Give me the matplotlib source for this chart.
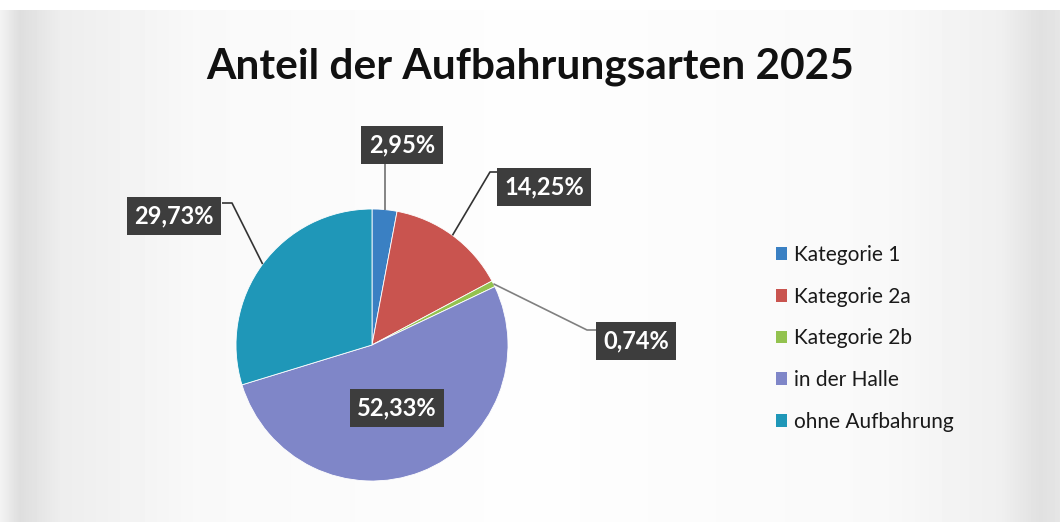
import numpy as np
import matplotlib
matplotlib.use("Agg")
import matplotlib.pyplot as plt
from matplotlib.patches import Patch

# ---- data ----
categories = ["Kategorie 1", "Kategorie 2a", "Kategorie 2b", "in der Halle", "ohne Aufbahrung"]
shares = [2.95, 14.25, 0.74, 52.33, 29.73]
label_texts = ["2,95%", "14,25%", "0,74%", "52,33%", "29,73%"]
colors = ["#3a80c3", "#c9544f", "#93c24f", "#7f86c8", "#1f97b8"]
title = "Anteil der Aufbahrungsarten 2025"

W, H = 1060, 522
fig = plt.figure(figsize=(W / 100, H / 100), dpi=100)
fig.patch.set_facecolor("white")

# scanned-page style background (light grey edges)
bg = fig.add_axes([0, 0, 1, 1], zorder=0)
xs = np.arange(W)
prof = np.interp(xs, [0, 20, 60, 200, 530, 880, 1000, 1040, 1060],
                 [0.95, 0.87, 0.93, 0.975, 0.995, 0.975, 0.94, 0.88, 0.90])
img = np.tile(prof, (H, 1))
img[:10, :] = 1.0
bg.imshow(img, cmap="gray", vmin=0, vmax=1, aspect="auto", extent=[0, W, H, 0])
bg.set_axis_off()

ax = fig.add_axes([0, 0, 1, 1], zorder=1)
ax.set_xlim(0, W)
ax.set_ylim(0, H)
ax.set_aspect("equal")
ax.set_axis_off()
ax.patch.set_alpha(0)

cx, cy, R = 372, H - 345, 136
wedges, _ = ax.pie(shares, colors=colors, startangle=90, counterclock=False,
                   center=(cx, cy), radius=R, frame=True,
                   wedgeprops=dict(edgecolor="white", linewidth=0.6))
ax.set_xlim(0, W)
ax.set_ylim(0, H)
ax.set_axis_off()

fig.text(0.5, 1 - 67 / H, title, ha="center", va="center",
         fontsize=30.5, fontweight="bold", family="Lato", color="#111111")

# label layout (box centers in pixel coords from top) and leader elbows
box_pos = {0: (402, 145), 1: (544, 187), 2: (636, 341), 3: (397, 408), 4: (174, 216)}
elbows = {
    0: [],
    1: [(490, 172), (500, 172)],
    2: [(587, 330), (598, 330)],
    4: [(232, 203), (222, 203)],
}
line_cols = {0: "#707070", 1: "#333333", 2: "#808080", 4: "#333333"}

for i, w in enumerate(wedges):
    mid = np.deg2rad((w.theta1 + w.theta2) / 2)
    bx, by = box_pos[i]
    ax.text(bx, H - by, label_texts[i], ha="center", va="center", fontsize=17,
            family="Lato", fontweight="bold", color="white", zorder=5,
            bbox=dict(boxstyle="square,pad=0.32", fc="#3d3d3d", ec="none"))
    if i in elbows:
        ex, ey = cx + R * np.cos(mid), cy + R * np.sin(mid)
        if i == 0:
            pts = [(ex, ey), (ex, H - 160)]
        else:
            pts = [(ex, ey)] + [(px, H - py) for px, py in elbows[i]]
        ax.plot([p[0] for p in pts], [p[1] for p in pts], color=line_cols[i],
                lw=1.2, zorder=4, solid_capstyle="butt")

handles = [Patch(facecolor=c, edgecolor="none") for c in colors]
leg = fig.legend(handles, categories, loc="upper left",
                 bbox_to_anchor=(776 / W, 1 - 245 / H), frameon=False,
                 prop=dict(family="Lato", size=15), handlelength=0.55,
                 handleheight=0.55, handletextpad=0.3, labelspacing=1.04,
                 borderpad=0, borderaxespad=0)
for t in leg.get_texts():
    t.set_color("#1a1a1a")

fig.savefig("out.png", dpi=100)
